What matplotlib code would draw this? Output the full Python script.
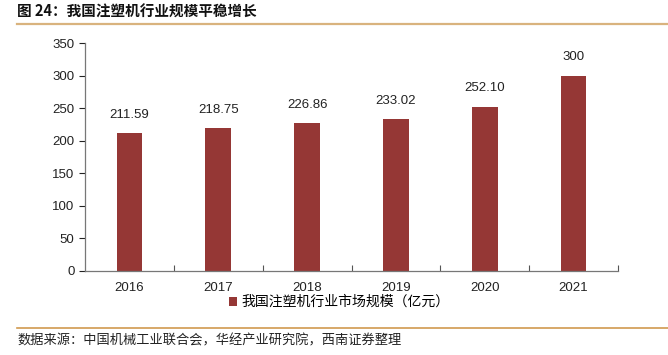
import numpy as np
import matplotlib.pyplot as plt
from matplotlib.lines import Line2D

plt.rcParams['font.family'] = ['Liberation Sans', 'Noto Sans CJK SC', 'DejaVu Sans']

years = ['2016', '2017', '2018', '2019', '2020', '2021']
market_size = [211.59, 218.75, 226.86, 233.02, 252.10, 300]
value_labels = ['211.59', '218.75', '226.86', '233.02', '252.10', '300']
y_ticks = [0, 50, 100, 150, 200, 250, 300, 350]

bar_color = '#953735'
cjk = ['Noto Sans CJK SC', 'DejaVu Sans']

fig = plt.figure(figsize=(6.68, 3.55), dpi=100)
ax = fig.add_axes([85/668, 1 - 270.7/355, (618 - 85)/668, (270.7 - 43)/355])

x = np.arange(len(years))
bars = ax.bar(x, market_size, width=0.29, color=bar_color,
              label='我国注塑机行业市场规模（亿元）', zorder=2)

for xi, v, lab in zip(x, market_size, value_labels):
    ax.annotate(lab, (xi, v), xytext=(0, 9), textcoords='offset points',
                ha='center', va='bottom', fontsize=9.5, color='#222222')

ax.set_xlim(-0.5, len(years) - 0.5)
ax.set_ylim(0, 350)
ax.set_yticks(y_ticks)
ax.tick_params(axis='y', direction='out', length=4, labelsize=9.5,
               colors='#222222', width=0.8)

# category labels centred, ticks at category boundaries pointing up
ax.set_xticks(x)
ax.set_xticklabels(years, fontsize=9.5, color='#222222')
ax.tick_params(axis='x', which='major', length=0, pad=8)
ax.set_xticks(np.arange(0.5, len(years), 1), minor=True)
ax.tick_params(axis='x', which='minor', direction='in', length=4,
               width=0.8, color='#555555')

for s in ['top', 'right']:
    ax.spines[s].set_visible(False)
for s in ['left', 'bottom']:
    ax.spines[s].set_color('#777777')
    ax.spines[s].set_linewidth(0.9)

leg = fig.legend(handles=[bars], loc='center', bbox_to_anchor=(339/668, 1 - 302/355),
                 frameon=False, handlelength=0.6, handleheight=0.6, handletextpad=0.3,
                 prop={'family': cjk, 'size': 10})

# title and decoration lines
fig.text(17/668, 1 - 12/355, '图 24：我国注塑机行业规模平稳增长', ha='left', va='center',
         fontsize=10.5, fontweight='bold', family=cjk, color='#111111')
fig.add_artist(Line2D([17/668, 1], [1 - 23.7/355] * 2, color='#D9B37E', lw=1.6,
                      transform=fig.transFigure))
fig.add_artist(Line2D([17/668, 1], [1 - 327.5/355] * 2, color='#D19A4F', lw=1.2,
                      transform=fig.transFigure))
fig.text(17/668, 1 - 341/355, '数据来源：中国机械工业联合会，华经产业研究院，西南证券整理',
         ha='left', va='center', fontsize=9.5, style='italic', family=cjk, color='#222222')

fig.savefig('out.png', dpi=100)
